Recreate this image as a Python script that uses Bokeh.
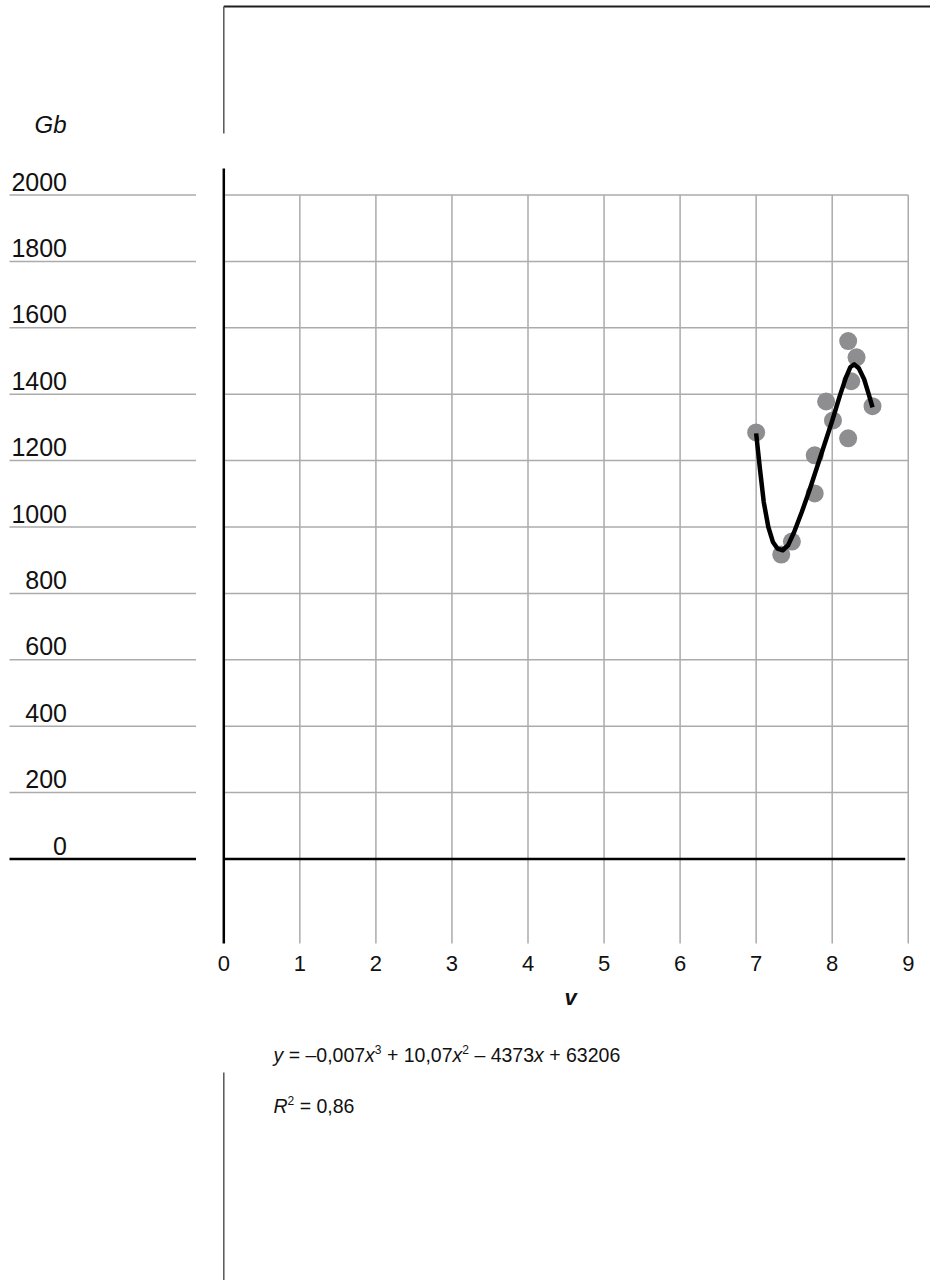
from bokeh.plotting import figure
from bokeh.models import Range1d
from bokeh.core.properties import value
from bokeh.embed import file_html
from bokeh.resources import INLINE

# ---------------- data ----------------
v_vals = [7.00, 7.33, 7.47, 7.77, 7.77, 7.92, 8.01, 8.21, 8.21, 8.32, 8.25, 8.53]
gb_vals = [1285, 917, 956, 1101, 1216, 1378, 1321, 1267, 1560, 1511, 1439, 1364]

trend_v = [7.00, 7.05, 7.10, 7.16, 7.22, 7.28, 7.35, 7.42, 7.50, 7.60, 7.70,
           7.80, 7.90, 8.00, 8.10, 8.18, 8.24, 8.29, 8.35, 8.42, 8.48, 8.53]
trend_gb = [1282, 1175, 1075, 1000, 955, 935, 930, 945, 985, 1045, 1110,
            1180, 1250, 1320, 1395, 1450, 1482, 1490, 1478, 1445, 1400, 1360]

x_ticks = [0, 1, 2, 3, 4, 5, 6, 7, 8, 9]
x_tick_labels = ["0", "1", "2", "3", "4", "5", "6", "7", "8", "9"]
y_ticks = [0, 200, 400, 600, 800, 1000, 1200, 1400, 1600, 1800, 2000]
y_tick_labels = ["0", "200", "400", "600", "800", "1000", "1200", "1400", "1600", "1800", "2000"]

x_title = "v"
y_title = "Gb"
NB = "\u00a0"
eq_parts = [("y", "i"), (NB + "=" + NB + "–0,007", "n"), ("x", "i"), ("3", "s"),
            (NB + "+" + NB + "10,07", "n"), ("x", "i"), ("2", "s"),
            (NB + "–" + NB + "4373", "n"), ("x", "i"), (NB + "+" + NB + "63206", "n")]
r2_parts = [("R", "i"), ("2", "s"), (NB + "=" + NB + "0,86", "n")]

# ---------------- page geometry (figure sits at the page's top-left) ----------------
W, H = 930, 1280
PX_X0, PX_PER_X = 223.3, 76.05     # screen x of v=0, px per unit
PX_Y0, PX_PER_Y = 858.5, 0.332     # screen y of Gb=0, px per unit
MID = 0.3465                       # em-middle height above the baseline


def dx(px):
    return (px - PX_X0) / PX_PER_X


def dy(py):
    return (PX_Y0 - py) / PX_PER_Y


FONT = value("Liberation Sans")
GRID = "#ababab"
DARK = "#555555"
TXT = "#111111"

p = figure(width=W, height=H, x_range=Range1d(dx(0), dx(W)),
           y_range=Range1d(dy(H), dy(0)), output_backend="svg",
           toolbar_location=None, x_axis_location=None, y_axis_location=None,
           min_border=0, min_border_left=0, min_border_right=0,
           min_border_top=0, min_border_bottom=0)
p.grid.visible = False
p.outline_line_color = None
p.background_fill_color = "white"
p.border_fill_color = "white"

# top frame
p.line([0, dx(930)], [dy(6), dy(6)], line_color="#1e1e1e", line_width=2)
p.line([0, 0], [dy(6), dy(133)], line_color=DARK, line_width=1.5)
# bottom frame
p.line([0, 0], [dy(1072), dy(1280)], line_color=DARK, line_width=1.5)

# vertical grid lines
ymax = y_ticks[-1]
ybot = dy(943)
p.segment(x0=x_ticks[1:], y0=[ymax] * (len(x_ticks) - 1),
          x1=x_ticks[1:], y1=[ybot] * (len(x_ticks) - 1),
          line_color=GRID, line_width=1.5)
# horizontal grid lines
p.segment(x0=[0] * (len(y_ticks) - 1), y0=y_ticks[1:],
          x1=[x_ticks[-1]] * (len(y_ticks) - 1), y1=y_ticks[1:],
          line_color=GRID, line_width=1.5)
# label underlines on the left
p.segment(x0=[dx(9)] * (len(y_ticks) - 1), y0=y_ticks[1:],
          x1=[dx(195.5)] * (len(y_ticks) - 1), y1=y_ticks[1:],
          line_color=GRID, line_width=1.5)
# zero lines
p.segment(x0=[dx(9)], y0=[y_ticks[0]], x1=[dx(195.5)], y1=[y_ticks[0]],
          line_color="black", line_width=2.6)
p.segment(x0=[0], y0=[y_ticks[0]], x1=[8.96], y1=[y_ticks[0]],
          line_color="black", line_width=2.6)
# main vertical axis
p.line([0, 0], [dy(168), ybot], line_color="black", line_width=2.5)

# data
p.scatter(v_vals, gb_vals, size=18, fill_color="#8e8e90", line_color=None)
p.line(trend_v, trend_gb, line_color="black", line_width=4.5, line_join="round")

# y tick labels (centre 13.5 px above each line)
p.text(x=[dx(66.5)] * len(y_ticks), y=y_ticks, text=y_tick_labels,
       text_align="right", text_baseline="middle", y_offset=-13.5,
       text_font=FONT, text_font_size="25px", text_color=TXT)
# y title
p.text(x=[dx(66)], y=[dy(132 - MID * 24)], text=[y_title], text_align="right",
       text_baseline="middle", text_font=FONT, text_font_size="24px",
       text_font_style="italic", text_color=TXT)
# x tick labels
p.text(x=x_ticks, y=[dy(971 - MID * 22)] * len(x_ticks), text=x_tick_labels,
       text_align="center", text_baseline="middle",
       text_font=FONT, text_font_size="22px", text_color=TXT)
# x title
p.text(x=[dx(570)], y=[dy(1005 - MID * 22)], text=[x_title], text_align="center",
       text_baseline="middle", text_font=FONT, text_font_size="22px",
       text_font_style="bold italic", text_color=TXT)

# equation texts built from pieces
WID = {' ': 278, NB: 278, '=': 584, '+': 584, '–': 556, ',': 278, 'x': 500, 'y': 500, 'R': 722}
for d in "0123456789":
    WID[d] = 556


def draw_parts(parts, px_left, py_base, fs=19.5, sup_fs=12, rise=8):
    off = 0.0
    for txt, kind in parts:
        size = sup_fs if kind == "s" else fs
        style = "italic" if kind == "i" else "normal"
        anchor = py_base - (rise if kind == "s" else 0) - MID * size
        p.text(x=[dx(px_left)], y=[dy(anchor)], text=[txt], x_offset=off,
               text_align="left", text_baseline="middle",
               text_font=FONT, text_font_size=f"{size}px",
               text_font_style=style, text_color=TXT)
        off += sum(WID.get(c, 556) for c in txt) / 1000 * size


draw_parts(eq_parts, 273, 1061)
draw_parts(r2_parts, 273, 1112)

open("out.html", "w").write(file_html(p, INLINE))
